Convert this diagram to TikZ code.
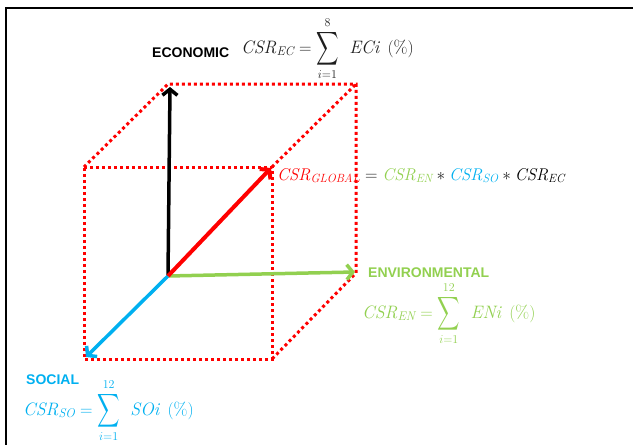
\documentclass[tikz,border=0pt]{standalone}
\usepackage{amsmath}
\usepackage{graphicx}
\usepackage{fontspec}
\setsansfont{Liberation Sans}
\usetikzlibrary{arrows.meta}
\definecolor{cred}{RGB}{255,0,0}
\definecolor{cgreen}{RGB}{146,208,80}
\definecolor{cblue}{RGB}{0,176,240}
\definecolor{cdark}{RGB}{30,30,30}
\newcommand{\BigSum}{\mathop{\vcenter{\hbox{\scalebox{0.9}[1.35]{$\displaystyle\sum$}}}}\limits}
\begin{document}
\begin{tikzpicture}[x=1pt,y=-1pt,
  cube/.style={draw=cred, line width=3pt, dash pattern=on 3pt off 3pt},
  axis/.style={line width=3.5pt, -{Straight Barb[length=6pt,width=15pt]}},
  lbl/.style={font=\sffamily\bfseries\fontsize{14}{16}\selectfont, inner sep=0pt, anchor=base west},
  eq/.style={font=\fontsize{18}{22}\selectfont, inner sep=0pt, anchor=base west},
  eqg/.style={font=\fontsize{17}{20}\selectfont, inner sep=0pt, anchor=base west, text=cdark},
]
\useasboundingbox (0,0) rectangle (633,445);
% frame (top and left)
\draw[line width=2pt, black] (633,8) -- (6,8) -- (6,445);
% cube corners
\coordinate (O) at (168,276);
\coordinate (FTL) at (84,167);
\coordinate (FTR) at (272,167);
\coordinate (FBL) at (84,359);
\coordinate (FBR) at (272,359);
\coordinate (BTL) at (168,84);
\coordinate (BTR) at (356,84);
\coordinate (BBR) at (356,273);
% dotted cube
\draw[cube] (FTL) -- (FTR) -- (FBR) -- (FBL) -- cycle;
\draw[cube] (FTL) -- (BTL) -- (BTR) -- (BBR) -- (FBR);
\draw[cube] (FTR) -- (BTR);
% axes
\coordinate (Etip) at (170,87);
\coordinate (Gtip) at (355,272);
\coordinate (Stip) at (86,357);
\coordinate (Rtip) at (271,168);
\draw[axis, black] (O) -- (Etip);
\draw[axis, cgreen] (O) -- (Gtip);
\draw[axis, cblue] (O) -- (Stip);
\draw[axis, cred, line width=4pt] (O) -- (Rtip);
% labels
\node[lbl, text=black] (econ) at (152,57) {ECONOMIC};
\node[eq, text=cdark] (econeq) at (241,53)
  {$\mathit{CSR}_{\mathit{EC}} = \BigSum_{i=1}^{8} \mkern8mu \mathit{ECi}\ \,(\%)$};
\node[lbl, text=cgreen] (env) at (368,277) {ENVIRONMENTAL};
\node[eq, text=cgreen] (enveq) at (362,318)
  {$\mathit{CSR}_{\mathit{EN}} = \BigSum_{i=1}^{12} \mkern8mu \mathit{ENi}\ \,(\%)$};
\node[lbl, text=cblue] (soc) at (26,384) {SOCIAL};
\node[eq, text=cblue] (soceq) at (23,415)
  {$\mathit{CSR}_{\mathit{SO}} = \BigSum_{i=1}^{12} \mkern8mu \mathit{SOi}\ \,(\%)$};
\node[eqg] (globeq) at (277,180)
  {${\color{cred}\mathit{CSR}_{\mathit{GLOBAL}}} = {\color{cgreen}\mathit{CSR}_{\mathit{EN}}} \ast {\color{cblue}\mathit{CSR}_{\mathit{SO}}} \ast {\color{black}\mathit{CSR}_{\mathit{EC}}}$};
\end{tikzpicture}
\end{document}
